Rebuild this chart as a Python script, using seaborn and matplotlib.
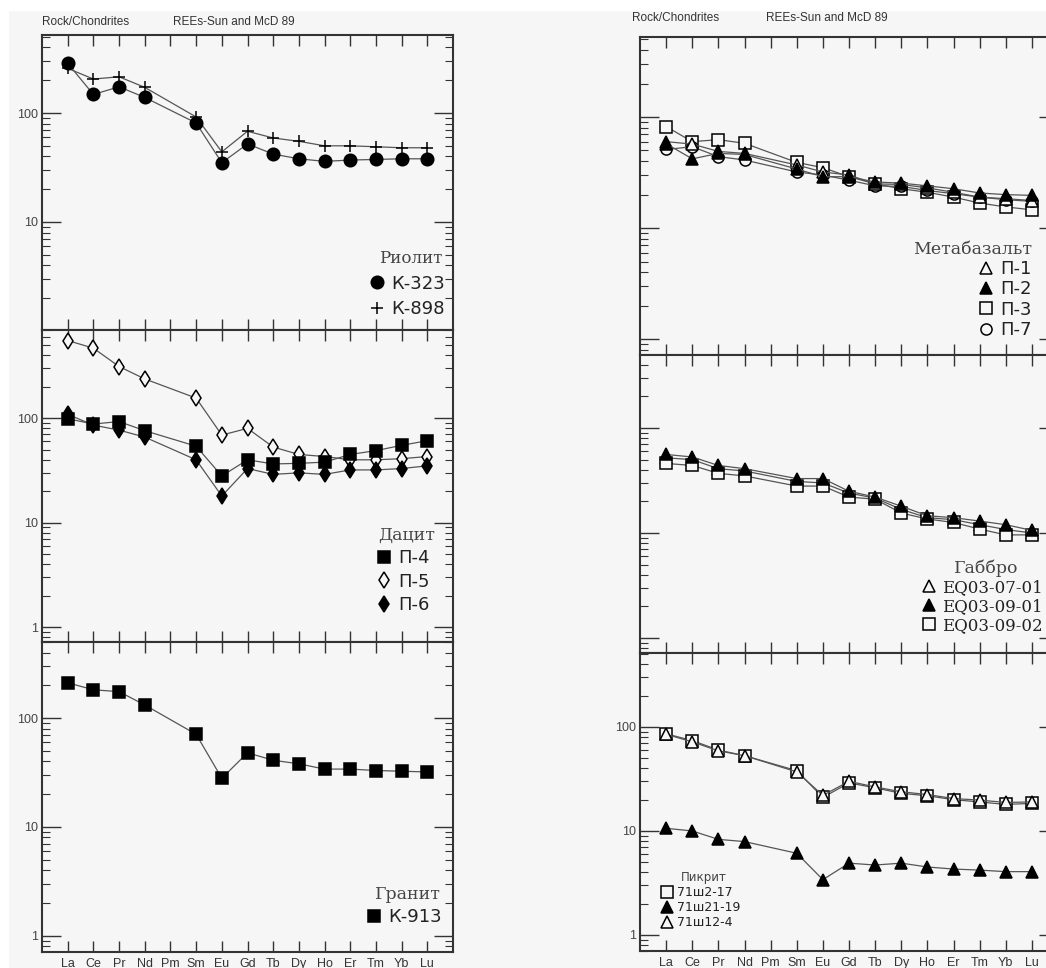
import matplotlib
matplotlib.use('Agg')
import matplotlib.pyplot as plt
import pandas as pd
import seaborn as sns

# REE order on the x axis (Pm is not measured)
ree = ['La', 'Ce', 'Pr', 'Nd', 'Pm', 'Sm', 'Eu', 'Gd', 'Tb', 'Dy', 'Ho', 'Er', 'Tm', 'Yb', 'Lu']
measured = [e for e in ree if e != 'Pm']

# Rhyolite
k323 = [286, 148, 174, 139, 81, 35, 52, 42, 38, 36, 37, 37.5, 38, 38]
k898 = [257, 205, 215, 172, 92, 44, 68, 59, 55, 50, 50, 49, 48, 48]

# Dacite
p4 = [99, 88, 93, 76, 54, 28, 40, 36.5, 37, 38, 45, 49, 55, 61]
p5 = [555, 469, 313, 238, 156, 69, 80, 53, 45, 43, 40, 40, 41, 43]
p6 = [109, 86, 77, 66, 40, 18, 33, 29, 30, 29, 32, 32, 33, 35]

# Granite
k913 = [211, 182, 175, 132, 71, 28, 48, 41, 38, 34, 34, 33, 32.5, 32]

# Metabasalt
p1 = [60, 57, 49, 47, 37, 32, 30, 25, 24.7, 23, 21, 19, 18.4, 17.7]
p2 = [57.5, 42, 47, 46, 34, 29, 29, 26, 25.4, 24, 22.6, 20.7, 20, 19.7]
p3 = [82, 60, 62.5, 58, 39, 35, 29, 25, 22.6, 21, 19, 16.8, 15.5, 14.6]
p7 = [51, 54, 44, 41, 32, 30, 27, 24, 23.7, 21.8, 20.4, 19, 18, 17.4]

# Gabbro
eq0701 = [52, 50, 41, 39, 31, 30, 24, 21.5, 16.8, 14, 13.4, 12, 10.8, 10]
eq0901 = [56, 53, 44, 41, 33, 33, 25, 22, 18, 14.6, 14, 13, 12, 10.6]
eq0902 = [46, 44, 37, 35, 28, 28, 22, 21, 15.5, 13.6, 12.6, 10.9, 9.6, 9.6]

# Picrite
sh2_17 = [86, 74, 60, 53, 38, 21, 29, 26, 23, 21.8, 20, 19, 18, 18.4]
sh21_19 = [10.6, 10, 8.3, 7.9, 6.1, 3.4, 4.9, 4.7, 4.9, 4.5, 4.3, 4.2, 4.06, 4.06]
sh12_4 = [85, 72, 59, 53, 37, 22, 30, 26.5, 23.8, 22.4, 20.5, 19.8, 18.8, 19]

W, H = 1046, 968
BG = '#f6f6f6'
INK = '#333333'
SANS = 'DejaVu Sans'
SERIF = 'DejaVu Serif'

sns.set_style('ticks')
plt.rcParams['font.family'] = ['Liberation Sans', 'DejaVu Sans']

# marker styles: (marker, size, filled)
OPEN_TRI = ('^', 8, False)
FILL_TRI = ('^', 8, True)
OPEN_SQ = ('s', 8, False)
FILL_SQ = ('s', 8.5, True)

panels = [
    # rect in pixels (x0, y0, x1, y1), ylim, series, legend
    dict(px=(42, 35, 453, 330), ylim=(1.02, 520), ylabels=True, xlabels=False,
         series=[('К-323', k323, ('o', 9, True), 3), ('К-898', k898, ('+', 9, False), 2)],
         title='Риолит', anchor=(0.98, 0.04), loc='lower right', align='center',
         lab=(SANS, 13), tit=(SERIF, 12), spacing=0.42),
    dict(px=(42, 330, 453, 642), ylim=(0.72, 700), ylabels=True, xlabels=False,
         series=[('П-4', p4, FILL_SQ, 4), ('П-5', p5, ('d', 8, False), 2), ('П-6', p6, ('d', 8, True), 3)],
         title='Дацит', anchor=(0.956, 0.09), loc='lower right', align='center',
         lab=(SANS, 13), tit=(SERIF, 12.5), spacing=0.3),
    dict(px=(42, 642, 453, 952), ylim=(0.71, 500), ylabels=True, xlabels=True,
         series=[('К-913', k913, FILL_SQ, 3)],
         title='Гранит', anchor=(0.973, 0.084), loc='lower right', align='center',
         lab=(SANS, 13), tit=(SERIF, 12.5), spacing=0.3),
    dict(px=(640, 37, 1058, 355), ylim=(0.72, 525), ylabels=False, xlabels=False,
         series=[('П-1', p1, OPEN_TRI, 3), ('П-2', p2, FILL_TRI, 5), ('П-3', p3, OPEN_SQ, 2), ('П-7', p7, ('o', 8, False), 2)],
         title='Метабазальт', anchor=(0.938, 0.05), loc='lower right', align='right',
         lab=(SANS, 13), tit=(SERIF, 12.5), spacing=0.13),
    dict(px=(640, 355, 1058, 653), ylim=(0.72, 496), ylabels=False, xlabels=False,
         series=[('EQ03-07-01', eq0701, OPEN_TRI, 2), ('EQ03-09-01', eq0901, FILL_TRI, 4), ('EQ03-09-02', eq0902, OPEN_SQ, 3)],
         title='Габбро', anchor=(0.964, 0.064), loc='lower right', align='center',
         lab=(SERIF, 12), tit=(SERIF, 12.5), spacing=0.12),
    dict(px=(640, 653, 1058, 951), ylim=(0.70, 515), ylabels=True, xlabels=True,
         series=[('71ш2-17', sh2_17, OPEN_SQ, 3), ('71ш21-19', sh21_19, FILL_TRI, 3), ('71ш12-4', sh12_4, OPEN_TRI, 4)],
         title='Пикрит', anchor=(0.065, 0.074), loc='lower left', align='center',
         lab=(SANS, 9), tit=(SANS, 8.5), spacing=0.15),
]


def style_axes(ax, p):
    ax.set_facecolor(BG)
    ax.set_yscale('log')
    ax.set_xticks(range(len(ree)))
    if p['xlabels']:
        ax.set_xticklabels(ree, fontsize=9, color=INK)
    else:
        ax.set_xticklabels([])
    ax.set_yticks([1, 10, 100])
    if p['ylabels']:
        ax.set_yticklabels(['1', '10', '100'], fontsize=9, color='#444444')
    else:
        ax.set_yticklabels([])
    # limits after the ticks, set_yticks would widen them otherwise
    ax.set_xlim(-1, 15)
    ax.set_ylim(*p['ylim'])
    ax.yaxis.set_minor_formatter(matplotlib.ticker.NullFormatter())
    ax.tick_params(axis='x', which='both', direction='in', top=True, bottom=True,
                   length=8, width=1, color=INK, pad=4)
    ax.tick_params(axis='y', which='major', direction='in', left=True, right=True,
                   length=14, width=1, color=INK, pad=3)
    ax.tick_params(axis='y', which='minor', direction='in', left=True, right=True,
                   length=6, width=0.8, color=INK)
    for s in ax.spines.values():
        s.set_visible(True)
        s.set_color(INK)
        s.set_linewidth(1.5)
    ax.set_xlabel('')
    ax.set_ylabel('')


fig = plt.figure(figsize=(W / 100, H / 100), dpi=100, facecolor=BG)
# white border strip at top/left, like the scan
fig.add_artist(plt.Rectangle((0, 1 - 10 / H), 1, 10 / H, transform=fig.transFigure, color='white', zorder=0))
fig.add_artist(plt.Rectangle((0, 0), 8 / W, 1, transform=fig.transFigure, color='white', zorder=0))

for p in panels:
    x0, y0, x1, y1 = p['px']
    ax = fig.add_axes([x0 / W, 1 - y1 / H, (x1 - x0) / W, (y1 - y0) / H])
    ax.set_yscale('log')
    handles = {}
    for label, vals, (mk, ms, filled), z in p['series']:
        df = pd.DataFrame({'pos': [ree.index(e) for e in measured], 'value': vals})
        sns.lineplot(data=df, x='pos', y='value', ax=ax, color='#555555', linewidth=0.9,
                     marker=mk, markersize=ms, markeredgecolor='black',
                     markerfacecolor='black' if filled else '#f7f7f7',
                     markeredgewidth=1.1, zorder=z, label=label)
        handles[label] = ax.lines[-1]
    style_axes(ax, p)

    labels = [s[0] for s in p['series']]
    leg = ax.legend([handles[l] for l in labels], labels, title=p['title'], loc=p['loc'],
                    bbox_to_anchor=p['anchor'], frameon=False, handlelength=0,
                    handletextpad=0.8, labelspacing=p['spacing'], borderpad=0, borderaxespad=0,
                    prop={'family': p['lab'][0], 'size': p['lab'][1]}, labelcolor='#222222',
                    title_fontproperties={'family': p['tit'][0], 'size': p['tit'][1]},
                    alignment=p['align'])
    leg.get_title().set_color('#444444')

# header texts
for x, y in [(42, 22), (632, 18)]:
    fig.text(x / W, 1 - y / H, 'Rock/Chondrites', fontsize=8.5, color=INK, va='center')
for x, y in [(173, 22), (766, 18)]:
    fig.text(x / W, 1 - y / H, 'REEs-Sun and McD 89', fontsize=8.5, color=INK, va='center')

fig.savefig('out.png', dpi=100, facecolor=BG)
